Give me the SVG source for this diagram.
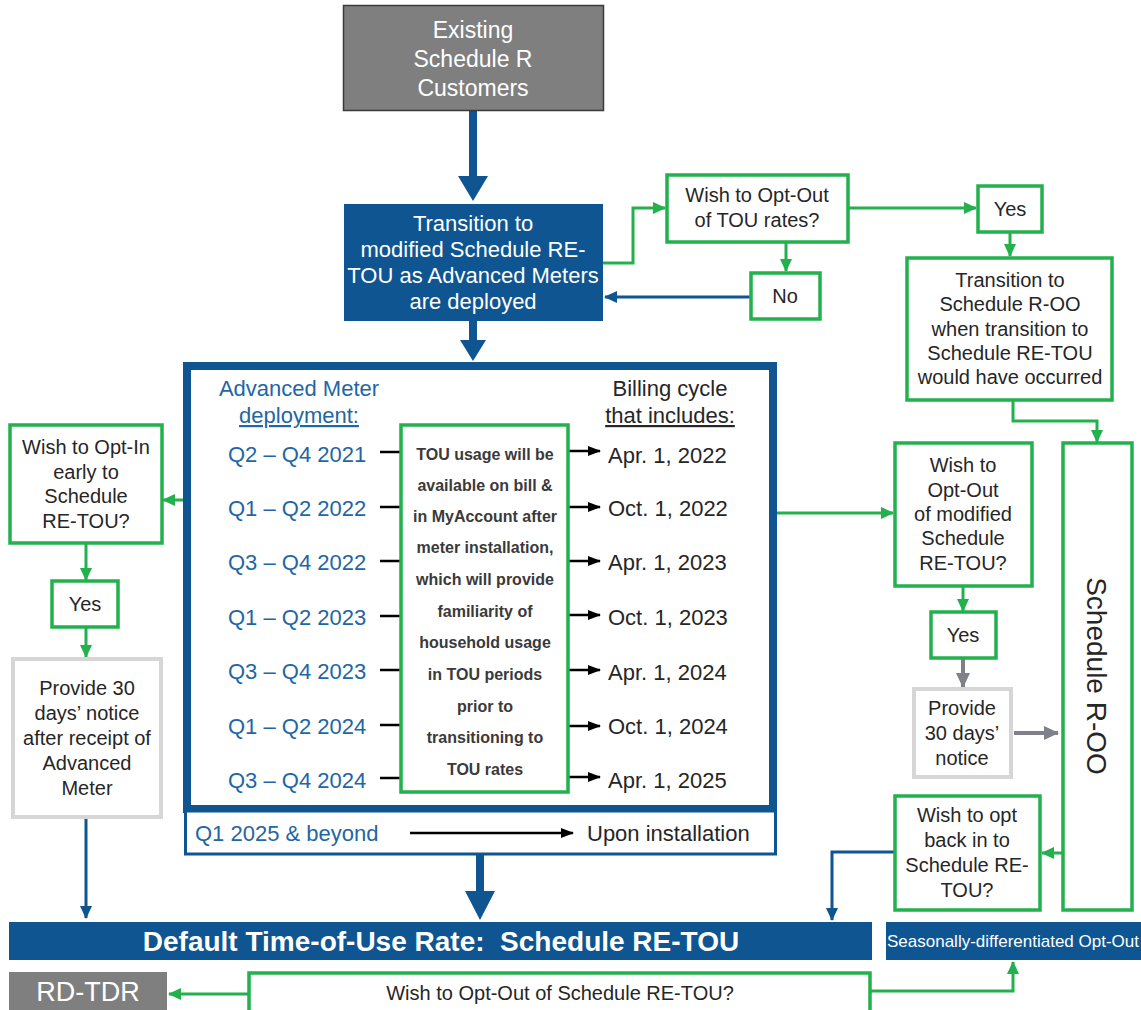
<svg xmlns="http://www.w3.org/2000/svg" width="1141" height="1010" viewBox="0 0 1141 1010">
<style>
text{font-family:"Liberation Sans",Arial,sans-serif;}
.g{fill:#fff;stroke:#22b14c;stroke-width:3.5;}
.gr{fill:#fff;stroke:#d6d6d6;stroke-width:4;}
.t20{font-size:20px;fill:#262626;text-anchor:middle;}
.wt{fill:#fff;text-anchor:middle;}
.q{font-size:22px;fill:#2266a4;}
.b{font-size:22px;fill:#262626;}
.m{font-size:16px;font-weight:bold;fill:#3a3a3a;text-anchor:middle;}
.cg{fill:none;stroke:#22b14c;stroke-width:3;}
.cb{fill:none;stroke:#0e5591;stroke-width:3;}
.cy{fill:none;stroke:#80808a;stroke-width:4;}
.ck{fill:none;stroke:#000;stroke-width:2.5;}
.thick{fill:#0e5591;}
</style>
<defs>
<marker id="ag" markerUnits="userSpaceOnUse" markerWidth="14" markerHeight="14" refX="12" refY="7" orient="auto"><path d="M0,1 L13,7 L0,13 Z" fill="#22b14c"/></marker>
<marker id="ab" markerUnits="userSpaceOnUse" markerWidth="14" markerHeight="14" refX="12" refY="7" orient="auto"><path d="M0,1 L13,7 L0,13 Z" fill="#0e5591"/></marker>
<marker id="ay" markerUnits="userSpaceOnUse" markerWidth="16" markerHeight="16" refX="14" refY="8" orient="auto"><path d="M0,1 L15,8 L0,15 Z" fill="#80808a"/></marker>
<marker id="ak" markerUnits="userSpaceOnUse" markerWidth="14" markerHeight="14" refX="12" refY="7" orient="auto"><path d="M0,2 L13,7 L0,12 Z" fill="#000"/></marker>
</defs>

<!-- connectors -->
<g id="connectors">
<path class="thick" d="M469,110 H477 V176 H488 L473,201 L458,176 H469 Z"/>
<path class="thick" d="M469,321 H477 V340 H486 L473,361 L460,340 H469 Z"/>
<path class="thick" d="M476,855 H484 V891 H495 L480,920 L465,891 H476 Z"/>
<path class="cg" d="M603,263 H633 V208 H665" marker-end="url(#ag)"/>
<path class="cg" d="M848,208 H976" marker-end="url(#ag)"/>
<path class="cg" d="M786,242 V271" marker-end="url(#ag)"/>
<path class="cb" d="M751,297 H605" marker-end="url(#ab)"/>
<path class="cg" d="M1010,232 V256" marker-end="url(#ag)"/>
<path class="cg" d="M1013,400 V421 H1097 V442" marker-end="url(#ag)"/>
<path class="cg" d="M183,500 H163" marker-end="url(#ag)"/>
<path class="cg" d="M86,543 V580" marker-end="url(#ag)"/>
<path class="cg" d="M86,627 V657" marker-end="url(#ag)"/>
<path class="cb" d="M86,817 V918" marker-end="url(#ab)"/>
<path class="cg" d="M777,513 H893" marker-end="url(#ag)"/>
<path class="cg" d="M963,586 V611" marker-end="url(#ag)"/>
<path class="cy" d="M963,658 V687" marker-end="url(#ay)"/>
<path class="cy" d="M1014,733 H1058" marker-end="url(#ay)"/>
<path class="cg" d="M1062,853 H1042" marker-end="url(#ag)"/>
<path class="cb" d="M894,852 H832 V920" marker-end="url(#ab)"/>
<path class="cg" d="M248,994 H169" marker-end="url(#ag)"/>
<path class="cg" d="M870,991 H1013 V962" marker-end="url(#ag)"/>
</g>

<!-- top gray -->
<g id="existing">
<rect x="343.5" y="5.5" width="260" height="105" fill="#7f7f7f" stroke="#3a3a3a" stroke-width="1.5"/>
<text class="wt" font-size="23" x="473" y="38" fill="#f2f2f2">Existing</text>
<text class="wt" font-size="23" x="473" y="67">Schedule R</text>
<text class="wt" font-size="23" x="473" y="96">Customers</text>
</g>

<g id="transition-retou">
<rect x="344" y="204" width="259" height="117" fill="#0e5591"/>
<text class="wt" font-size="22" x="473" y="231">Transition to</text>
<text class="wt" font-size="22" x="473" y="257">modified Schedule RE-</text>
<text class="wt" font-size="22" x="473" y="283">TOU as Advanced Meters</text>
<text class="wt" font-size="22" x="473" y="309">are deployed</text>
</g>

<g id="optout-tou">
<rect class="g" x="667" y="175" width="181" height="67"/>
<text class="t20" x="757" y="202">Wish to Opt-Out</text>
<text class="t20" x="757" y="227">of TOU rates?</text>
</g>

<g id="no">
<rect class="g" x="751" y="273" width="69" height="46"/>
<text class="t20" x="785" y="303">No</text>
</g>

<g id="yes-top">
<rect class="g" x="978" y="186" width="64" height="46"/>
<text class="t20" x="1010" y="216">Yes</text>
</g>

<g id="transition-roo">
<rect class="g" x="907" y="258" width="205" height="142"/>
<text class="t20" x="1010" y="287">Transition to</text>
<text class="t20" x="1010" y="311">Schedule R-OO</text>
<text class="t20" x="1010" y="336">when transition to</text>
<text class="t20" x="1010" y="360">Schedule RE-TOU</text>
<text class="t20" x="1010" y="384">would have occurred</text>
</g>

<!-- big frame -->
<g id="deployment-frame">
<rect x="187" y="366" width="586" height="443" fill="#fff" stroke="#0e5591" stroke-width="8"/>
<text class="q" x="299" y="396" text-anchor="middle">Advanced Meter</text>
<text class="q" x="299" y="423" text-anchor="middle" text-decoration="underline">deployment:</text>
<text class="b" x="670" y="396" text-anchor="middle">Billing cycle</text>
<text class="b" x="670" y="423" text-anchor="middle" text-decoration="underline">that includes:</text>
<g class="q">
<text x="228" y="462">Q2 – Q4 2021</text>
<text x="228" y="516">Q1 – Q2 2022</text>
<text x="228" y="570">Q3 – Q4 2022</text>
<text x="228" y="625">Q1 – Q2 2023</text>
<text x="228" y="679">Q3 – Q4 2023</text>
<text x="228" y="734">Q1 – Q2 2024</text>
<text x="228" y="788">Q3 – Q4 2024</text>
</g>
<g class="b">
<text x="608" y="463">Apr. 1, 2022</text>
<text x="608" y="516">Oct. 1, 2022</text>
<text x="608" y="570">Apr. 1, 2023</text>
<text x="608" y="625">Oct. 1, 2023</text>
<text x="608" y="680">Apr. 1, 2024</text>
<text x="608" y="734">Oct. 1, 2024</text>
<text x="608" y="788">Apr. 1, 2025</text>
</g>
<g stroke="#000" stroke-width="2.5">
<path d="M380,452 H401 M380,507 H401 M380,561 H401 M380,616 H401 M380,670 H401 M380,725 H401 M380,778 H401"/>
</g>
<g class="ck">
<path d="M568,451 H600" marker-end="url(#ak)"/>
<path d="M568,507 H600" marker-end="url(#ak)"/>
<path d="M568,561 H600" marker-end="url(#ak)"/>
<path d="M568,615 H600" marker-end="url(#ak)"/>
<path d="M568,670 H600" marker-end="url(#ak)"/>
<path d="M568,726 H600" marker-end="url(#ak)"/>
<path d="M568,777 H600" marker-end="url(#ak)"/>
</g>
</g>

<g id="tou-usage">
<rect class="g" x="401" y="425" width="167" height="367"/>
<text class="m" x="485" y="460">TOU usage will be</text>
<text class="m" x="485" y="491">available on bill &amp;</text>
<text class="m" x="485" y="522">in MyAccount after</text>
<text class="m" x="485" y="553">meter installation,</text>
<text class="m" x="485" y="585">which will provide</text>
<text class="m" x="485" y="617">familiarity of</text>
<text class="m" x="485" y="648">household usage</text>
<text class="m" x="485" y="680">in TOU periods</text>
<text class="m" x="485" y="712">prior to</text>
<text class="m" x="485" y="743">transitioning to</text>
<text class="m" x="485" y="775">TOU rates</text>
</g>

<g id="q1-2025">
<rect x="185.5" y="811" width="590" height="43" fill="#fff" stroke="#0e5591" stroke-width="3"/>
<text class="q" x="195" y="841">Q1 2025 &amp; beyond</text>
<path class="ck" d="M410,833 H573" marker-end="url(#ak)"/>
<text class="b" x="587" y="841">Upon installation</text>
</g>

<!-- left column -->
<g id="optin-early">
<rect class="g" x="10" y="425" width="152" height="118"/>
<text class="t20" x="86" y="454">Wish to Opt-In</text>
<text class="t20" x="86" y="479">early to</text>
<text class="t20" x="86" y="503">Schedule</text>
<text class="t20" x="86" y="528">RE-TOU?</text>
</g>
<g id="yes-left">
<rect class="g" x="52" y="581" width="66" height="46"/>
<text class="t20" x="85" y="611">Yes</text>
</g>
<g id="notice-left">
<rect class="gr" x="13" y="659" width="148" height="158"/>
<text class="t20" x="87" y="695">Provide 30</text>
<text class="t20" x="87" y="720">days’ notice</text>
<text class="t20" x="87" y="745">after receipt of</text>
<text class="t20" x="87" y="770">Advanced</text>
<text class="t20" x="87" y="795">Meter</text>
</g>

<!-- right column -->
<g id="optout-modified">
<rect class="g" x="895" y="443" width="137" height="143"/>
<text class="t20" x="963" y="472">Wish to</text>
<text class="t20" x="963" y="497">Opt-Out</text>
<text class="t20" x="963" y="521">of modified</text>
<text class="t20" x="963" y="545">Schedule</text>
<text class="t20" x="963" y="570">RE-TOU?</text>
</g>
<g id="yes-right">
<rect class="g" x="931" y="612" width="65" height="46"/>
<text class="t20" x="963" y="642">Yes</text>
</g>
<g id="notice-right">
<rect class="gr" x="914" y="689" width="97" height="88"/>
<text class="t20" x="962" y="715">Provide</text>
<text class="t20" x="962" y="740">30 days’</text>
<text class="t20" x="962" y="765">notice</text>
</g>
<g id="schedule-roo">
<rect class="g" x="1063" y="443" width="69" height="467"/>
<text font-size="28" fill="#262626" text-anchor="middle" transform="translate(1087,676) rotate(90)">Schedule R-OO</text>
</g>
<g id="optback">
<rect class="g" x="895" y="796" width="145" height="114"/>
<text class="t20" x="967" y="822">Wish to opt</text>
<text class="t20" x="967" y="847">back in to</text>
<text class="t20" x="967" y="872">Schedule RE-</text>
<text class="t20" x="967" y="897">TOU?</text>
</g>

<!-- bottom -->
<g id="default-retou">
<rect x="9" y="922" width="863" height="38" fill="#0e5591"/>
<text class="wt" font-size="28" font-weight="bold" x="441" y="951" xml:space="preserve">Default Time-of-Use Rate:  Schedule RE-TOU</text>
</g>
<g id="seasonal">
<rect x="886" y="922" width="255" height="38" fill="#0e5591"/>
<text class="wt" font-size="17" x="1013" y="947">Seasonally-differentiated Opt-Out</text>
</g>
<g id="rdtdr">
<rect x="9" y="972" width="158" height="38" fill="#7f7f7f"/>
<text class="wt" font-size="27" x="88" y="1001">RD-TDR</text>
</g>
<g id="optout-retou">
<rect class="g" x="249" y="973" width="621" height="40"/>
<text class="t20" x="560" y="1000">Wish to Opt-Out of Schedule RE-TOU?</text>
</g>
</svg>
